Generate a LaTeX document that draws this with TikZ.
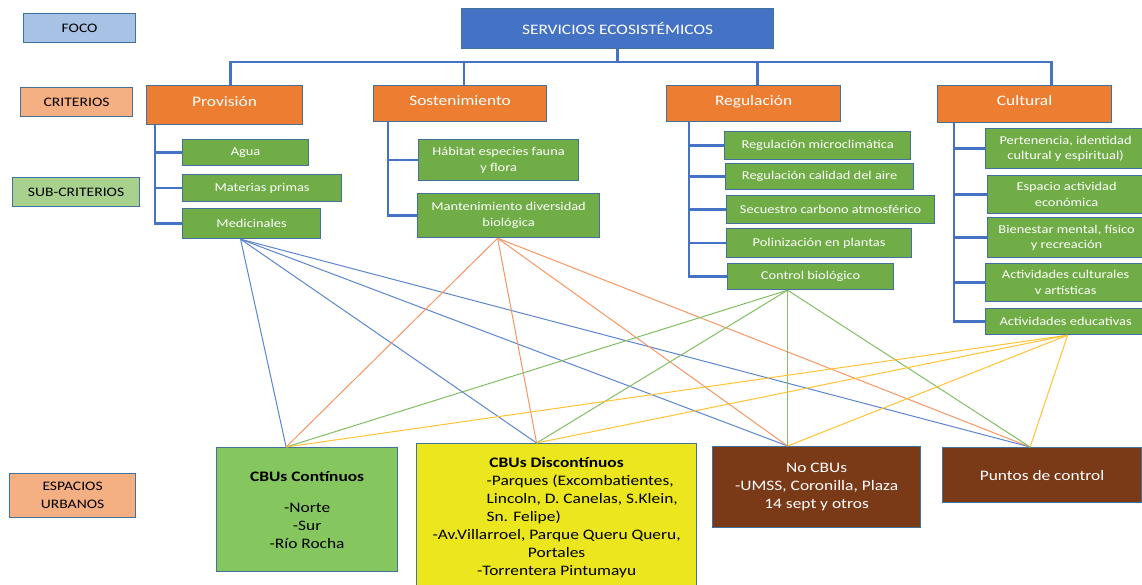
\documentclass[tikz,border=0pt]{standalone}
\usepackage{fontspec}
\setmainfont{Carlito}[FakeStretch=1.2]
\usetikzlibrary{positioning}

\definecolor{edge}{RGB}{65,113,156}
\definecolor{treeblue}{RGB}{68,114,196}
\definecolor{focofill}{RGB}{167,194,228}
\definecolor{tagorange}{RGB}{244,175,130}
\definecolor{taggreen}{RGB}{169,209,142}
\definecolor{critfill}{RGB}{237,125,49}
\definecolor{subfill}{RGB}{112,173,71}
\definecolor{contfill}{RGB}{134,198,95}
\definecolor{discfill}{RGB}{235,230,30}
\definecolor{brownfill}{RGB}{122,58,24}
\definecolor{fanblue}{RGB}{91,134,207}
\definecolor{fanorange}{RGB}{244,150,100}
\definecolor{fangreen}{RGB}{130,190,100}
\definecolor{fanyellow}{RGB}{255,195,50}

\tikzset{every node/.append style={font=\fontsize{14.5}{18}\selectfont}}

\begin{document}
\begin{tikzpicture}[x=1pt, y=-1pt,
  box/.style={draw=edge, line width=1.2pt, inner sep=0pt, anchor=north west, align=center},
  tagbox/.style={box, font=\fontsize{13}{18}\selectfont},
  critbox/.style={box, fill=critfill, text=white, text depth=7pt},
  subbox/.style={box, fill=subfill, text=white, font=\fontsize{12}{15.5}\selectfont},
  tree/.style={draw=treeblue, line width=2.4pt},
  fan/.style={line width=1pt}]
  \useasboundingbox (0,0) rectangle (1142,584);
  \clip (0,0) rectangle (1142,584);

  % level labels on the left
  \node[tagbox, fill=focofill, minimum width=112pt, minimum height=29pt] (foco) at (23,13) {FOCO};
  \node[tagbox, fill=tagorange, minimum width=112pt, minimum height=29pt] (criterios) at (20,87) {CRITERIOS};
  \node[tagbox, fill=taggreen, minimum width=127pt, minimum height=29pt] (subcriterios) at (12,177) {SUB-CRITERIOS};
  \node[tagbox, fill=tagorange, minimum width=126pt, minimum height=44pt] (espacios) at (9,473) {ESPACIOS\\URBANOS};

  % root and criteria
  \node[box, fill=treeblue, text=white, minimum width=312pt, minimum height=40pt] (servicios) at (461,8) {SERVICIOS ECOSISTÉMICOS};
  \node[critbox, minimum width=156pt, minimum height=39pt] (provision) at (146,85) {Provisión};
  \node[critbox, minimum width=173pt, minimum height=36pt] (sostenimiento) at (373,85) {Sostenimiento};
  \node[critbox, minimum width=174pt, minimum height=36pt] (regulacion) at (666,85) {Regulación};
  \node[critbox, minimum width=174pt, minimum height=37pt] (cultural) at (937,85) {Cultural};

  % sub-criteria
  \node[subbox, minimum width=126pt, minimum height=26pt] (agua) at (182,139) {Agua};
  \node[subbox, minimum width=159pt, minimum height=27pt] (materias) at (182,174) {Materias primas};
  \node[subbox, minimum width=138pt, minimum height=30pt] (medicinales) at (182,208) {Medicinales};

  \node[subbox, minimum width=160pt, minimum height=41pt] (habitat) at (418,139) {Hábitat especies fauna\\y flora};
  \node[subbox, minimum width=182pt, minimum height=44pt] (mantenimiento) at (417,193) {Mantenimiento diversidad\\biológica};

  \node[subbox, minimum width=186pt, minimum height=28pt] (regmicro) at (724,131) {Regulación microclimática};
  \node[subbox, minimum width=188pt, minimum height=26pt] (regaire) at (725,163) {Regulación calidad del aire};
  \node[subbox, minimum width=208pt, minimum height=28pt] (secuestro) at (726,195) {Secuestro carbono atmosférico};
  \node[subbox, minimum width=185pt, minimum height=29pt] (polinizacion) at (726,228) {Polinización en plantas};
  \node[subbox, minimum width=166pt, minimum height=26pt] (control) at (727,263) {Control biológico};

  \node[subbox, minimum width=160pt, minimum height=40pt] (pertenencia) at (985,128) {Pertenencia, identidad\\cultural y espiritual)};
  \node[subbox, minimum width=158pt, minimum height=38pt] (espacio) at (987,175) {Espacio actividad\\económica};
  \node[subbox, minimum width=158pt, minimum height=40pt] (bienestar) at (987,217) {Bienestar mental, físico\\y recreación};
  \node[subbox, minimum width=160pt, minimum height=38pt] (actcult) at (985,263) {Actividades culturales\\v artísticas};
  \node[subbox, minimum width=160pt, minimum height=26pt] (acteduc) at (985,308) {Actividades educativas};

  % urban spaces
  \node[box, fill=contfill, minimum width=181pt, minimum height=124pt] (continuos) at (216,447)
    {\textbf{CBUs Contínuos}\\[13pt]-Norte\\-Sur\\-Río Rocha};
  \node[box, fill=discfill, minimum width=280pt, minimum height=147pt] (discontinuos) at (416,443)
    {\textbf{CBUs Discontínuos}\\
     \makebox[140pt][l]{-Parques (Excombatientes,}\\
     \makebox[140pt][l]{Lincoln, D. Canelas, S.Klein,}\\
     \makebox[140pt][l]{Sn. Felipe)}\\
     -Av.Villarroel, Parque Queru Queru,\\
     Portales\\
     -Torrentera Pintumayu};
  \node[box, fill=brownfill, text=white, minimum width=208pt, minimum height=81pt] (nocbu) at (712,446)
    {No CBUs\\-UMSS, Coronilla, Plaza\\14 sept y otros};
  \node[box, fill=brownfill, text=white, minimum width=199pt, minimum height=55pt] (puntos) at (942,447) {Puntos de control};

  % hierarchy lines
  \draw[tree] (servicios.south) -- ++(0,14);
  \draw[tree] ([xshift=6pt]provision.north) -- ++(0,-23) -| ([xshift=27pt]cultural.north);
  \draw[tree] ([xshift=4pt]sostenimiento.north) -- ++(0,-23);
  \draw[tree] ([xshift=4pt]regulacion.north) -- ++(0,-23);

  \coordinate (provtrunk) at ([xshift=9pt]provision.south west);
  \coordinate (sosttrunk) at ([xshift=15pt]sostenimiento.south west);
  \coordinate (regtrunk) at ([xshift=23pt]regulacion.south west);
  \coordinate (culttrunk) at ([xshift=17pt]cultural.south west);

  \draw[tree] (provtrunk) |- (medicinales.west);
  \foreach \s in {agua,materias}
    \draw[tree] (provtrunk |- \s.west) -- (\s.west);
  \draw[tree] (sosttrunk) |- (mantenimiento.west);
  \draw[tree] (sosttrunk |- habitat.west) -- (habitat.west);
  \draw[tree] (regtrunk) |- (control.west);
  \foreach \s in {regmicro,regaire,secuestro,polinizacion}
    \draw[tree] (regtrunk |- \s.west) -- (\s.west);
  \draw[tree] (culttrunk) |- (acteduc.west);
  \foreach \s in {pertenencia,espacio,bienestar,actcult}
    \draw[tree] (culttrunk |- \s.west) -- (\s.west);

  % links from sub-criteria to urban spaces
  \coordinate (medout) at ([xshift=-11pt]medicinales.south);
  \coordinate (manout) at ([xshift=-11pt]mantenimiento.south);
  \coordinate (ctlout) at ([xshift=-23pt]control.south);
  \coordinate (eduout) at ([xshift=2pt]acteduc.south);
  \coordinate (contin) at ([xshift=-21pt]continuos.north);
  \coordinate (discin) at ([xshift=-20pt]discontinuos.north);
  \coordinate (nocbuin) at ([xshift=-29pt]nocbu.north);
  \coordinate (puntin) at ([xshift=-12pt]puntos.north);

  \foreach \src/\col in {medout/fanblue, manout/fanorange, ctlout/fangreen, eduout/fanyellow}
    \foreach \dst in {contin, discin, nocbuin, puntin}
      \draw[fan, \col] (\src) -- (\dst);
\end{tikzpicture}
\end{document}
